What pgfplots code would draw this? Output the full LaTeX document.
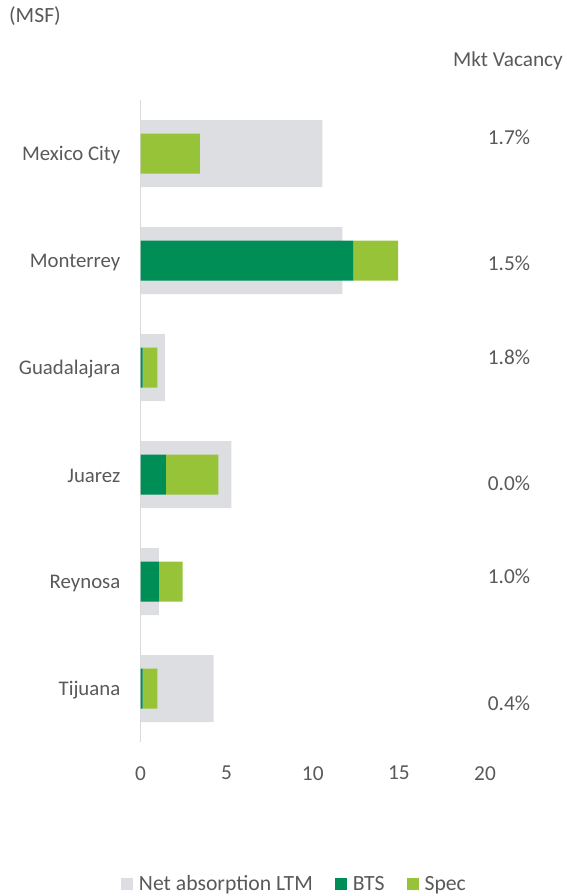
\documentclass[border=0pt]{standalone}
\usepackage{fontspec}
\setmainfont{Carlito}
\usepackage{pgfplots}
\pgfplotsset{compat=1.18}
\definecolor{absc}{RGB}{220,222,225}
\definecolor{btsc}{RGB}{0,142,87}
\definecolor{specc}{RGB}{150,195,55}
\definecolor{txt}{RGB}{89,89,89}
\definecolor{axl}{RGB}{217,217,217}
\pgfplotsset{base/.style={
  scale only axis, width=344.5pt, height=642pt,
  xmin=0, xmax=20, ymin=-0.5, ymax=5.5, y dir=reverse,
  at={(140.5pt,-742pt)}, anchor=south west,
  clip=false,
  xbar, bar shift=0pt,
}}
\begin{document}
\begin{tikzpicture}[font=\fontsize{20.8}{25}\selectfont, text=txt]
\useasboundingbox (0,0) rectangle (567pt,-896pt);
\begin{axis}[base,
  axis lines=left, axis line style={-},
  x axis line style={draw=none},
  y axis line style={axl, line width=1.5pt},
  major tick length=0pt,
  xtick={0,5,10,15,20},
  ytick={0,1,2,3,4,5},
  yticklabels={Mexico City,Monterrey,Guadalajara,Juarez,Reynosa,Tijuana},
  yticklabel style={inner sep=0pt, xshift=-20pt, yshift=-1.5pt, text=txt},
  xticklabel style={inner sep=0pt, yshift=-24pt, text=txt, font=\fontsize{21.3}{25}\selectfont},
  /pgf/number format/assume math mode=true,
  bar width=67pt,
]
\addplot[fill=absc, draw=none] coordinates {(10.56,0) (11.72,1) (1.42,2) (5.27,3) (1.07,4) (4.25,5)};
\end{axis}
\begin{axis}[base, hide axis, xbar stacked, bar width=40pt,
  legend columns=3,
  legend style={draw=none, fill=none, at={(0.444,-0.221)}, anchor=center,
    text=txt, font=\fontsize{21.7}{25}\selectfont,
    nodes={inner sep=0pt},
    /tikz/every odd column/.append style={column sep=6pt},
    /tikz/every even column/.append style={column sep=22pt}},
  legend image code/.code={\fill[#1] (0pt,-6pt) rectangle (12pt,6pt);},
]
\addlegendimage{fill=absc, draw=none}
\addlegendentry{Net absorption LTM}
\addplot[fill=btsc, draw=none] coordinates {(0,0) (12.34,1) (0.13,2) (1.48,3) (1.07,4) (0.13,5)};
\addlegendentry{BTS}
\addplot[fill=specc, draw=none] coordinates {(3.45,0) (2.61,1) (0.85,2) (3.04,3) (1.38,4) (0.85,5)};
\addlegendentry{Spec}
\node[font=\fontsize{21.3}{25}\selectfont] at (axis cs:21.39,-0.154) {1.7\%};
\node[font=\fontsize{21.3}{25}\selectfont] at (axis cs:21.39,1.023) {1.5\%};
\node[font=\fontsize{21.3}{25}\selectfont] at (axis cs:21.39,1.90) {1.8\%};
\node[font=\fontsize{21.3}{25}\selectfont] at (axis cs:21.39,3.08) {0.0\%};
\node[font=\fontsize{21.3}{25}\selectfont] at (axis cs:21.39,3.95) {1.0\%};
\node[font=\fontsize{21.3}{25}\selectfont] at (axis cs:21.39,5.14) {0.4\%};
\end{axis}
\node[font=\fontsize{21.3}{25}\selectfont] at (508pt,-61pt) {Mkt Vacancy};
\node[font=\fontsize{21.7}{25}\selectfont] at (35pt,-16pt) {(MSF)};
\end{tikzpicture}
\end{document}
